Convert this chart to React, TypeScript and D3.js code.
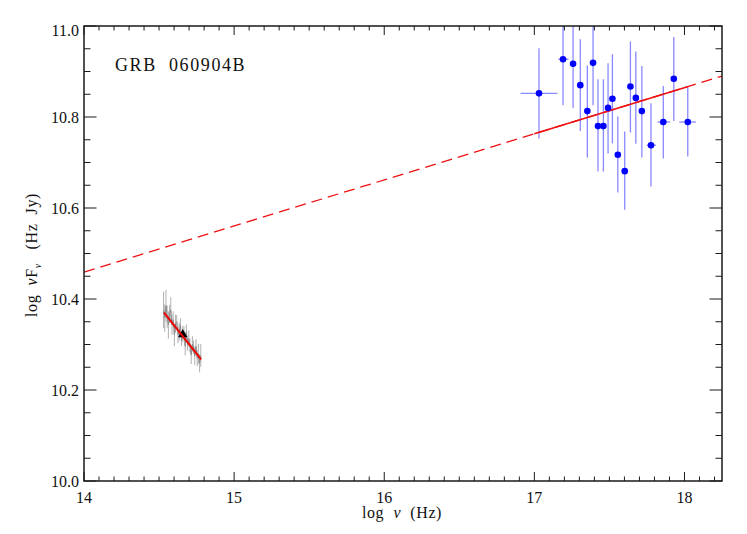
import React from "react";
import * as d3 from "d3";

// X-ray data (log nu, log nuFnu) with errors
const xrayX = [17.031, 17.191, 17.258, 17.306, 17.353, 17.391, 17.424, 17.46, 17.491, 17.52, 17.556, 17.602, 17.64, 17.676, 17.716, 17.777, 17.859, 17.929, 18.022];
const xrayXLo = [16.909, 17.16, 17.245, 17.296, 17.343, 17.381, 17.414, 17.45, 17.481, 17.51, 17.546, 17.592, 17.63, 17.666, 17.706, 17.749, 17.82, 17.918, 17.966];
const xrayXHi = [17.153, 17.227, 17.271, 17.316, 17.363, 17.401, 17.434, 17.47, 17.501, 17.53, 17.566, 17.612, 17.65, 17.686, 17.726, 17.811, 17.904, 17.94, 18.077];
const xrayY = [10.852, 10.927, 10.917, 10.87, 10.813, 10.919, 10.78, 10.78, 10.82, 10.84, 10.717, 10.681, 10.867, 10.842, 10.813, 10.738, 10.789, 10.884, 10.789];
const xrayYLo = [10.753, 10.826, 10.82, 10.769, 10.711, 10.826, 10.68, 10.68, 10.72, 10.742, 10.634, 10.596, 10.766, 10.741, 10.711, 10.647, 10.709, 10.791, 10.713];
const xrayYHi = [10.951, 11.05, 11.05, 10.971, 10.913, 11.05, 10.883, 10.883, 10.918, 10.938, 10.801, 10.768, 10.966, 10.944, 10.912, 10.83, 10.868, 10.976, 10.864];

// Optical spectrum (grey)
const optX = [14.53, 14.538, 14.546, 14.554, 14.562, 14.57, 14.578, 14.586, 14.594, 14.602, 14.61, 14.618, 14.626, 14.634, 14.642, 14.65, 14.658, 14.666, 14.674, 14.682, 14.69, 14.698, 14.706, 14.714, 14.722, 14.73, 14.738, 14.746, 14.754, 14.762, 14.77, 14.778];
const optY = [10.376, 10.358, 10.385, 10.361, 10.343, 10.367, 10.376, 10.343, 10.355, 10.321, 10.346, 10.35, 10.321, 10.328, 10.343, 10.309, 10.323, 10.325, 10.296, 10.328, 10.3, 10.313, 10.298, 10.277, 10.301, 10.294, 10.275, 10.296, 10.27, 10.279, 10.259, 10.276];
const optErr = [0.04, 0.03, 0.035, 0.025, 0.03, 0.02, 0.028, 0.022, 0.018, 0.025, 0.02, 0.015, 0.018, 0.02, 0.015, 0.012, 0.018, 0.015, 0.02, 0.016, 0.014, 0.018, 0.015, 0.02, 0.017, 0.015, 0.02, 0.016, 0.018, 0.022, 0.02, 0.025];

// Photometric point (triangle)
const photX = [14.658];
const photY = [10.322];

// Model lines
const xrayFitX = [17.0, 18.026];
const xrayFitY = [10.763, 10.867];
const extrapX = [14.0, 18.25];
const extrapY = [10.459, 10.89];
const optFitX = [14.533, 14.78];
const optFitY = [10.37, 10.2675];

const xMajor = [14, 15, 16, 17, 18];
const yMajor = [10.0, 10.2, 10.4, 10.6, 10.8, 11.0];
const xMinor = d3.range(140, 183).map((v) => v / 10);
const yMinor = d3.range(200, 221).map((v) => v / 20);

const L = 84, R = 722, T = 26, B = 481;

export default function App() {
  const x = d3.scaleLinear().domain([14, 18.25]).range([L, R]);
  const y = d3.scaleLinear().domain([10, 11]).range([B, T]);
  const font = "'Liberation Serif', 'DejaVu Serif', serif";
  const line = d3.line<[number, number]>().x((d) => x(d[0])).y((d) => y(d[1]));
  const ax = "#1a1a1a";

  const tri = d3.symbol().type(d3.symbolTriangle).size(40)();

  return (
    <svg width={747} height={534} style={{ position: "absolute", left: 0, top: 0, background: "#fff" }}>
      <defs>
        <clipPath id="plotclip">
          <rect x={L} y={T} width={R - L} height={B - T} />
        </clipPath>
      </defs>
      <g clipPath="url(#plotclip)">
        {/* extrapolated dashed line */}
        <path d={line(extrapX.map((v, i) => [v, extrapY[i]]) as any) || ""} stroke="#ee1111" strokeWidth={1.3} fill="none" strokeDasharray="11,6" />
        {/* optical spectrum */}
        {optX.map((v, i) => (
          <line key={"oe" + i} x1={x(v)} x2={x(v)} y1={y(optY[i] - optErr[i])} y2={y(optY[i] + optErr[i])} stroke="#b0b0b0" strokeWidth={1} />
        ))}
        <path d={line(optX.map((v, i) => [v, optY[i]]) as any) || ""} stroke="#8c8c8c" strokeWidth={1} fill="none" />
        {photX.map((v, i) => (
          <path key={"tr" + i} d={tri || ""} transform={`translate(${x(v)},${y(photY[i])})`} fill="#000" />
        ))}
        <path d={line(optFitX.map((v, i) => [v, optFitY[i]]) as any) || ""} stroke="#ee0000" strokeWidth={2} fill="none" />
        {/* x-ray error bars */}
        {xrayX.map((v, i) => (
          <g key={"xe" + i}>
            <line x1={x(v)} x2={x(v)} y1={y(xrayYLo[i])} y2={y(xrayYHi[i])} stroke="#6b6bff" strokeOpacity={0.8} strokeWidth={1.3} />
            <line x1={x(xrayXLo[i])} x2={x(xrayXHi[i])} y1={y(xrayY[i])} y2={y(xrayY[i])} stroke="#6b6bff" strokeOpacity={0.8} strokeWidth={1.3} />
          </g>
        ))}
        <path d={line(xrayFitX.map((v, i) => [v, xrayFitY[i]]) as any) || ""} stroke="#ee1111" strokeWidth={1.5} fill="none" />
        {xrayX.map((v, i) => (
          <circle key={"xp" + i} cx={x(v)} cy={y(xrayY[i])} r={3.3} fill="#0000ff" />
        ))}
      </g>

      {/* ticks */}
      {xMinor.map((v) => {
        const major = Math.abs(v - Math.round(v)) < 1e-6;
        const len = major ? 9 : 4.5;
        return (
          <g key={"xt" + v}>
            <line x1={x(v)} x2={x(v)} y1={B} y2={B - len} stroke={ax} strokeWidth={1} />
            <line x1={x(v)} x2={x(v)} y1={T} y2={T + len} stroke={ax} strokeWidth={1} />
          </g>
        );
      })}
      {yMinor.map((v) => {
        const major = Math.abs(v * 5 - Math.round(v * 5)) < 1e-6;
        const len = major ? 12.5 : 6.5;
        return (
          <g key={"yt" + v}>
            <line x1={L} x2={L + len} y1={y(v)} y2={y(v)} stroke={ax} strokeWidth={1} />
            <line x1={R} x2={R - len} y1={y(v)} y2={y(v)} stroke={ax} strokeWidth={1} />
          </g>
        );
      })}
      <rect x={L} y={T} width={R - L} height={B - T} fill="none" stroke={ax} strokeWidth={1.5} />

      {/* tick labels */}
      {xMajor.map((v) => (
        <text key={"xl" + v} x={x(v)} y={503} textAnchor="middle" fontFamily={font} fontSize={16} fill="#111">
          {v}
        </text>
      ))}
      {yMajor.map((v) => (
        <text key={"yl" + v} x={79} y={y(v) + (v === 11 ? 10 : 5.5)} textAnchor="end" fontFamily={font} fontSize={16} fill="#111">
          {v.toFixed(1)}
        </text>
      ))}

      {/* axis titles */}
      <text x={(L + R) / 2 - 1} y={518} textAnchor="middle" fontFamily={font} fontSize={16} letterSpacing={0.6} fill="#111" style={{ whiteSpace: "pre" }}>
        {"log "}<tspan fontStyle="italic">{" ν "}</tspan>{" (Hz)"}
      </text>
      <text transform="translate(37,255) rotate(-90)" textAnchor="middle" fontFamily={font} fontSize={16} letterSpacing={0.6} fill="#111" style={{ whiteSpace: "pre" }}>
        {"log "}<tspan fontStyle="italic">{" ν"}</tspan>F<tspan fontSize={10} dy={4} fontStyle="italic">ν</tspan>
        <tspan dy={-4}>{"   (Hz  Jy)"}</tspan>
      </text>

      <text x={115} y={71} fontFamily={font} fontSize={18} letterSpacing={1.6} fill="#111" style={{ whiteSpace: "pre" }}>
        {"GRB  060904B"}
      </text>
    </svg>
  );
}
